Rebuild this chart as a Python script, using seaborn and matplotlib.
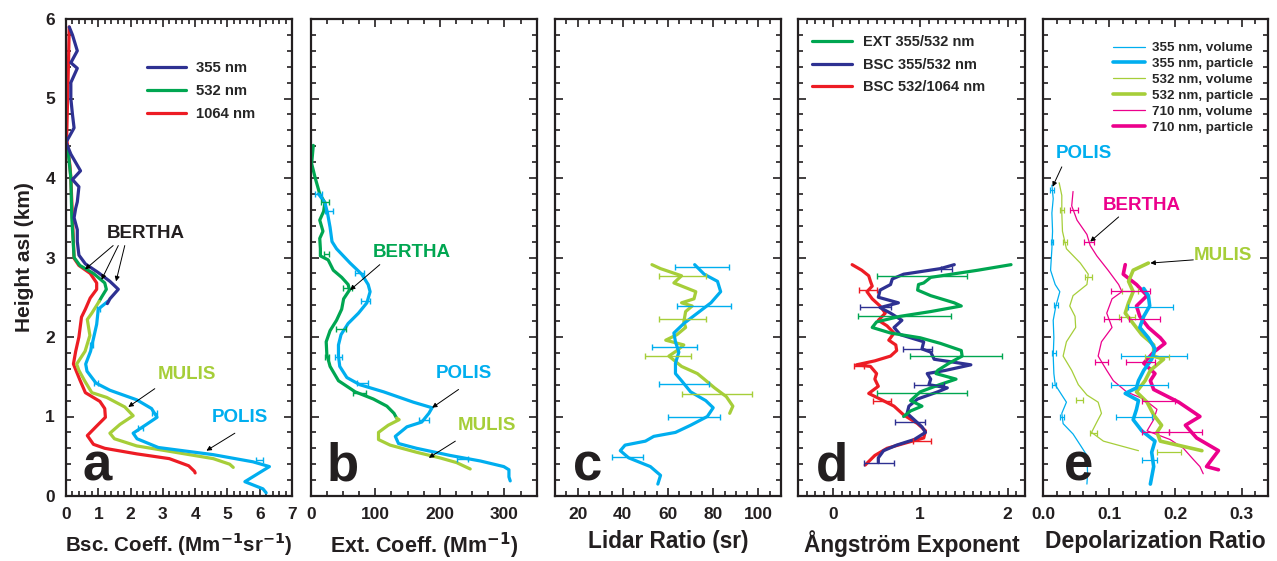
import numpy as np
import pandas as pd
import matplotlib
matplotlib.use("Agg")
import matplotlib.pyplot as plt
from matplotlib.ticker import MultipleLocator, FormatStrFormatter
from matplotlib.lines import Line2D
import seaborn as sns

sns.set_theme(style="ticks")
plt.rcParams['font.family'] = ['Liberation Sans', 'DejaVu Sans']
plt.rcParams['font.weight'] = 'bold'
plt.rcParams['mathtext.default'] = 'bf'

C_BLUE = "#2e3192"
C_GREEN = "#00a651"
C_RED = "#ed1c24"
C_CYAN = "#00aeef"
C_LIME = "#a6ce39"
C_MAG = "#ec008c"

# ---------------- Panel a: backscatter coefficient ----------------
a_b355_h = [5.9, 5.8, 5.6, 5.45, 5.38, 5.2, 5.0, 4.8, 4.63, 4.52, 4.45, 4.3, 4.09, 3.98, 3.89, 3.7, 3.62, 3.5, 3.35, 3.2, 3.03, 2.92, 2.81, 2.70, 2.60, 2.48, 2.42]
a_b355_v = [0.10, 0.20, 0.35, 0.15, 0.35, 0.15, 0.15, 0.20, 0.25, 0.10, 0.00, 0.15, 0.45, 0.20, 0.40, 0.35, 0.30, 0.25, 0.35, 0.35, 0.40, 0.60, 1.00, 1.36, 1.62, 1.36, 1.28]
a_p355_h = [2.45, 2.35, 2.16, 1.98, 1.82, 1.66, 1.57, 1.42, 1.33, 1.21, 1.10, 0.99, 0.90, 0.79, 0.72, 0.61, 0.52, 0.43, 0.37, 0.27, 0.18, 0.09, 0.04]
a_p355_v = [1.30, 1.00, 0.95, 0.85, 0.76, 0.61, 0.65, 0.93, 1.36, 2.19, 2.65, 2.82, 2.49, 2.08, 2.20, 2.86, 4.56, 5.79, 6.30, 5.90, 5.54, 6.10, 6.20]
a_b532_h = [4.40, 4.20, 4.00, 3.50, 3.00, 2.90, 2.80, 2.68, 2.60, 2.50, 2.45]
a_b532_v = [0.05, 0.10, 0.15, 0.18, 0.25, 0.43, 0.85, 1.20, 1.25, 1.10, 1.03]
a_m532_h = [2.45, 2.30, 2.22, 2.02, 1.82, 1.66, 1.58, 1.44, 1.30, 1.24, 1.12, 1.01, 0.90, 0.79, 0.72, 0.63, 0.54, 0.47, 0.40, 0.36]
a_m532_v = [1.03, 0.80, 0.66, 0.74, 0.59, 0.33, 0.40, 0.59, 0.80, 1.26, 1.82, 2.08, 1.67, 1.36, 1.50, 2.19, 3.53, 4.56, 5.07, 5.18]
a_r1064_h = [5.90, 5.50, 5.00, 4.50, 4.40, 4.16, 4.00, 3.50, 2.99, 2.90, 2.80, 2.68, 2.60, 2.49, 2.35, 2.25, 2.00, 1.82, 1.66, 1.46, 1.30, 1.19, 1.10, 0.99, 0.88, 0.76, 0.65, 0.60, 0.53, 0.47, 0.38, 0.31, 0.29]
a_r1064_v = [0.10, 0.08, 0.05, 0.02, 0.05, 0.12, 0.15, 0.20, 0.25, 0.40, 0.75, 0.95, 0.95, 0.75, 0.60, 0.48, 0.40, 0.30, 0.23, 0.43, 0.60, 1.05, 1.20, 1.22, 0.95, 0.66, 0.85, 1.20, 2.19, 3.20, 3.80, 3.98, 4.00]
a_err_h = [2.35, 1.90, 1.42, 1.05, 0.85, 0.45]
a_err_v = [1.00, 0.80, 0.93, 2.75, 2.30, 6.0]
a_err_e = [0.05, 0.05, 0.06, 0.08, 0.08, 0.1]

# ---------------- Panel b: extinction coefficient ----------------
b_b532_h = [4.41, 4.18, 4.00, 3.80, 3.69, 3.58, 3.47, 3.33, 3.24, 3.11, 3.02, 2.97, 2.84, 2.75, 2.66, 2.59, 2.48, 2.35, 2.21, 2.08, 1.94, 1.78, 1.63, 1.45, 1.31, 1.22, 1.13, 1.04, 0.98]
b_b532_v = [4, 1.5, 7, 14, 22, 20, 14, 19, 14, 15, 15, 27, 35, 48, 58, 60, 51, 48, 40, 30, 24, 25, 30, 43, 69, 97, 118, 129, 133]
b_m532_h = [0.98, 0.96, 0.89, 0.80, 0.71, 0.64, 0.55, 0.48, 0.42, 0.34]
b_m532_v = [133, 137, 120, 105, 105, 123, 164, 200, 226, 247]
b_p355_h = [3.80, 3.69, 3.56, 3.38, 3.20, 3.11, 2.93, 2.79, 2.66, 2.57, 2.43, 2.30, 2.17, 2.03, 1.90, 1.76, 1.63, 1.49, 1.40, 1.31, 1.18, 1.11, 1.04, 0.93, 0.87, 0.75, 0.66, 0.60, 0.51, 0.44, 0.37, 0.33, 0.24, 0.19]
b_p355_v = [12, 22, 26, 30, 33, 40, 61, 79, 89, 92, 87, 74, 58, 47, 43, 43, 45, 56, 76, 113, 159, 188, 183, 172, 149, 131, 136, 164, 216, 263, 299, 307, 307, 309]
b_perr_h = [3.80, 3.58, 2.80, 2.45, 1.75, 1.42, 0.95, 0.47]
b_perr_v = [12, 28, 75, 85, 43, 80, 175, 235]
b_perr_e = [6, 6, 7, 7, 5, 8, 8, 8]
b_gerr_h = [3.70, 3.05, 2.62, 2.10, 1.75, 1.30]
b_gerr_v = [22, 25, 57, 47, 25, 75]
b_gerr_e = [6, 4, 7, 8, 3, 10]

# ---------------- Panel c: lidar ratio ----------------
c_p_h = [2.91, 2.79, 2.70, 2.57, 2.43, 2.30, 2.17, 2.05, 1.94, 1.81, 1.67, 1.54, 1.45, 1.31, 1.20, 1.11, 1.00, 0.89, 0.80, 0.75, 0.69, 0.64, 0.57, 0.48, 0.37, 0.26, 0.15]
c_p_v = [71.8, 76, 81.9, 83.3, 79, 73, 67, 62.6, 63.3, 64.8, 63.3, 63.3, 66, 70, 76.7, 80, 77.4, 70, 63.3, 53.7, 50, 41, 38.9, 42.6, 52.2, 56.7, 55.5]
c_m_h = [2.91, 2.86, 2.77, 2.68, 2.57, 2.48, 2.43, 2.39, 2.32, 2.19, 2.12, 2.03, 1.96, 1.90, 1.83, 1.76, 1.63, 1.54, 1.47, 1.36, 1.25, 1.13, 1.04]
c_m_v = [52.9, 56.7, 66, 62.6, 72.3, 71.5, 66, 70.7, 67.8, 67, 67.8, 64, 59, 67, 64, 60.4, 66, 73, 76, 80.6, 85.8, 88.7, 87.3]
c_perr_h = [2.88, 2.39, 1.87, 1.41, 0.99, 0.49]
c_perr_v = [75, 76, 63, 67, 71.5, 42]
c_perr_e = [12, 12, 10, 11, 11.5, 7]
c_merr_h = [2.77, 2.23, 1.76, 1.28]
c_merr_v = [66.5, 66.5, 60, 81.5]
c_merr_e = [10.5, 10.5, 10, 15.5]

# ---------------- Panel d: Angstrom exponent ----------------
d_ext_h = [2.91, 2.84, 2.75, 2.68, 2.66, 2.59, 2.52, 2.43, 2.39, 2.32, 2.26, 2.19, 2.12, 2.05, 1.99, 1.92, 1.83, 1.76, 1.67, 1.58, 1.54, 1.47, 1.40, 1.31, 1.20, 1.13, 1.07, 1.00]
d_ext_v = [2.04, 1.66, 1.12, 1.04, 0.98, 0.97, 1.12, 1.39, 1.47, 1.12, 0.77, 0.50, 0.45, 0.66, 1.00, 1.23, 1.47, 1.48, 1.33, 1.20, 1.18, 1.41, 1.22, 1.00, 0.89, 1.02, 0.89, 0.81]
d_b35_h = [2.91, 2.86, 2.79, 2.73, 2.66, 2.59, 2.50, 2.43, 2.37, 2.30, 2.21, 2.12, 2.03, 1.94, 1.85, 1.81, 1.72, 1.65, 1.58, 1.54, 1.47, 1.40, 1.36, 1.31, 1.22, 1.13, 1.04, 0.96, 0.87, 0.80, 0.71, 0.64, 0.57, 0.48, 0.42]
d_b35_v = [1.39, 1.23, 0.81, 0.68, 0.66, 0.54, 0.52, 0.75, 0.54, 0.66, 0.79, 0.70, 0.77, 1.04, 1.02, 1.12, 1.16, 1.58, 1.29, 1.08, 1.12, 1.10, 1.31, 1.20, 0.97, 0.87, 0.85, 0.93, 1.02, 1.06, 0.93, 0.73, 0.58, 0.52, 0.52]
d_b51_h = [2.91, 2.84, 2.77, 2.70, 2.64, 2.57, 2.48, 2.39, 2.30, 2.21, 2.14, 2.05, 1.96, 1.90, 1.83, 1.76, 1.70, 1.65, 1.63, 1.54, 1.47, 1.38, 1.29, 1.22, 1.13, 1.02, 0.91, 0.82, 0.73, 0.66, 0.60, 0.51, 0.39]
d_b51_v = [0.22, 0.33, 0.41, 0.43, 0.45, 0.39, 0.45, 0.54, 0.60, 0.52, 0.62, 0.70, 0.64, 0.72, 0.73, 0.66, 0.48, 0.27, 0.43, 0.50, 0.48, 0.52, 0.41, 0.54, 0.70, 0.81, 0.97, 1.06, 1.04, 0.81, 0.62, 0.48, 0.37]
d_gerr_h = [2.77, 2.26, 1.76, 1.29]
d_gerr_v = [1.02, 0.82, 1.41, 1.02]
d_gerr_e = [0.52, 0.53, 0.53, 0.52]
d_berr_h = [2.86, 2.38, 1.85, 1.40, 0.93, 0.42]
d_berr_v = [1.30, 0.49, 0.97, 1.10, 0.88, 0.53]
d_berr_e = [0.06, 0.18, 0.17, 0.17, 0.17, 0.17]
d_rerr_h = [2.59, 1.64, 1.19, 0.69]
d_rerr_v = [0.40, 0.30, 0.56, 1.02]
d_rerr_e = [0.10, 0.06, 0.10, 0.10]

# ---------------- Panel e: depolarization ratio ----------------
e_v355_h = [3.91, 3.74, 3.56, 3.33, 3.11, 2.84, 2.66, 2.57, 2.39, 2.21, 1.99, 1.76, 1.54, 1.40, 1.27, 1.18, 1.04, 0.91, 0.78, 0.64, 0.51, 0.28, 0.15]
e_v355_v = [0.013, 0.015, 0.013, 0.014, 0.013, 0.011, 0.018, 0.025, 0.019, 0.015, 0.016, 0.015, 0.016, 0.018, 0.028, 0.035, 0.028, 0.030, 0.045, 0.056, 0.066, 0.067, 0.066]
e_v532_h = [3.94, 3.78, 3.56, 3.33, 3.11, 2.93, 2.79, 2.66, 2.52, 2.39, 2.26, 2.12, 1.94, 1.76, 1.58, 1.40, 1.27, 1.18, 1.04, 0.93, 0.80, 0.69, 0.57]
e_v532_v = [0.024, 0.028, 0.028, 0.029, 0.035, 0.056, 0.068, 0.066, 0.045, 0.040, 0.048, 0.049, 0.035, 0.030, 0.043, 0.053, 0.066, 0.083, 0.088, 0.081, 0.073, 0.091, 0.144]
e_v710_h = [3.83, 3.65, 3.47, 3.29, 3.15, 3.02, 2.84, 2.66, 2.57, 2.48, 2.30, 2.12, 1.94, 1.76, 1.58, 1.45, 1.31, 1.22, 1.09, 0.96, 0.82, 0.71, 0.60, 0.46, 0.37, 0.28]
e_v710_v = [0.045, 0.043, 0.051, 0.066, 0.071, 0.081, 0.098, 0.114, 0.119, 0.104, 0.096, 0.104, 0.088, 0.083, 0.096, 0.106, 0.126, 0.152, 0.172, 0.167, 0.157, 0.192, 0.212, 0.227, 0.237, 0.242]
e_p355_h = [2.61, 2.52, 2.39, 2.26, 2.12, 1.99, 1.85, 1.72, 1.58, 1.45, 1.36, 1.29, 1.20, 1.09, 0.96, 0.82, 0.69, 0.55, 0.37, 0.15]
e_p355_v = [0.152, 0.159, 0.161, 0.152, 0.146, 0.159, 0.169, 0.164, 0.152, 0.144, 0.141, 0.124, 0.144, 0.141, 0.136, 0.149, 0.169, 0.164, 0.167, 0.162]
e_p532_h = [2.93, 2.84, 2.70, 2.57, 2.43, 2.30, 2.17, 2.03, 1.90, 1.76, 1.72, 1.58, 1.45, 1.31, 1.18, 1.02, 0.89, 0.80, 0.69, 0.57]
e_p532_v = [0.159, 0.136, 0.129, 0.136, 0.129, 0.124, 0.136, 0.149, 0.167, 0.167, 0.182, 0.162, 0.154, 0.141, 0.157, 0.167, 0.179, 0.172, 0.177, 0.240]
e_p710_h = [2.91, 2.79, 2.66, 2.52, 2.39, 2.26, 2.12, 1.99, 1.92, 1.81, 1.67, 1.54, 1.45, 1.34, 1.18, 1.00, 0.89, 0.73, 0.57, 0.46, 0.37, 0.33]
e_p710_v = [0.124, 0.121, 0.141, 0.157, 0.141, 0.146, 0.159, 0.177, 0.184, 0.167, 0.152, 0.169, 0.162, 0.167, 0.205, 0.237, 0.215, 0.232, 0.265, 0.255, 0.247, 0.265]
e_cerr_h = [2.38, 1.76, 1.40, 1.00, 0.45, 3.85, 3.2, 2.4, 1.8, 1.4, 1.0]
e_cerr_v = [0.162, 0.168, 0.145, 0.137, 0.161, 0.013, 0.013, 0.019, 0.016, 0.016, 0.028]
e_cerr_e = [0.034, 0.050, 0.043, 0.027, 0.011, 0.003, 0.002, 0.003, 0.003, 0.003, 0.003]
e_lerr_h = [3.60, 3.20, 2.76, 2.58, 2.25, 1.75, 1.21, 0.79, 0.55]
e_lerr_v = [0.028, 0.033, 0.068, 0.131, 0.126, 0.172, 0.055, 0.076, 0.190]
e_lerr_e = [0.003, 0.003, 0.005, 0.012, 0.012, 0.018, 0.005, 0.006, 0.018]
e_merr_h = [3.60, 3.20, 2.58, 2.23, 2.23, 1.68, 1.68, 1.20, 0.80, 0.80]
e_merr_v = [0.047, 0.069, 0.132, 0.105, 0.153, 0.088, 0.147, 0.175, 0.170, 0.215]
e_merr_e = [0.006, 0.008, 0.030, 0.013, 0.023, 0.010, 0.022, 0.025, 0.020, 0.025]

fig = plt.figure(figsize=(12.77, 5.61), dpi=100)
W, H = 1277.0, 561.0
ybot, ytop = 496.0, 19.0
lefts = [66.0, 310.7, 555.0, 798.0, 1043.3]
widths = [226.0, 226.0, 226.0, 227.0, 224.7]
axes = [fig.add_axes([l / W, 1 - ybot / H, w / W, (ybot - ytop) / H]) for l, w in zip(lefts, widths)]

LW = 2.3
ANN = 13.5


def line(ax, v, h, color, lw=LW):
    df = pd.DataFrame({"v": v, "h": h})
    sns.lineplot(data=df, x="v", y="h", sort=False, estimator=None, color=color,
                 lw=lw, ax=ax, legend=False, solid_capstyle='round')


def err(ax, v, h, e, color, lw=1.0):
    ax.errorbar(v, h, xerr=e, fmt='none', ecolor=color, elinewidth=lw, capsize=2, capthick=lw)


def arrow(ax, xy, xytext):
    ax.annotate('', xy=xy, xytext=xytext,
                arrowprops=dict(arrowstyle='-|>', color='black', lw=0.7, mutation_scale=7,
                                shrinkA=0, shrinkB=0))


# Panel a
ax = axes[0]
line(ax, a_r1064_v, a_r1064_h, C_RED)
line(ax, a_b532_v, a_b532_h, C_GREEN)
line(ax, a_m532_v, a_m532_h, C_LIME)
line(ax, a_p355_v, a_p355_h, C_CYAN)
line(ax, a_b355_v, a_b355_h, C_BLUE)
err(ax, a_err_v, a_err_h, a_err_e, C_CYAN)
hs = [Line2D([], [], color=c, lw=LW) for c in (C_BLUE, C_GREEN, C_RED)]
ax.legend(hs, ["355 nm", "532 nm", "1064 nm"], loc='upper left', bbox_to_anchor=(0.36, 0.912),
          frameon=False, borderpad=0, borderaxespad=0, handlelength=2.6, handletextpad=0.7,
          labelspacing=0.62, prop={'weight': 'bold', 'size': 10.7})
ax.text(2.46, 3.30, "BERTHA", color='#231f20', fontsize=ANN, fontweight='bold', ha='center', va='center')
arrow(ax, (0.59, 2.85), (1.46, 3.15))
arrow(ax, (1.10, 2.72), (1.62, 3.15))
arrow(ax, (1.55, 2.70), (1.82, 3.15))
ax.text(3.75, 1.53, "MULIS", color=C_LIME, fontsize=ANN, fontweight='bold', ha='center', va='center')
arrow(ax, (1.93, 1.12), (2.75, 1.35))
ax.text(5.4, 0.99, "POLIS", color=C_CYAN, fontsize=ANN, fontweight='bold', ha='center', va='center')
arrow(ax, (4.35, 0.57), (5.23, 0.79))
ax.set_xlim(0, 7)
ax.xaxis.set_major_locator(MultipleLocator(1))
ax.xaxis.set_minor_locator(MultipleLocator(0.2))
ax.set_xlabel("Bsc. Coeff. (Mm$^{\\mathsf{-1}}$sr$^{\\mathsf{-1}}$)", fontsize=14.8)

# Panel b
ax = axes[1]
line(ax, b_b532_v, b_b532_h, C_GREEN)
line(ax, b_m532_v, b_m532_h, C_LIME)
line(ax, b_p355_v, b_p355_h, C_CYAN)
err(ax, b_perr_v, b_perr_h, b_perr_e, C_CYAN)
err(ax, b_gerr_v, b_gerr_h, b_gerr_e, C_GREEN)
ax.text(157, 3.06, "BERTHA", color=C_GREEN, fontsize=ANN, fontweight='bold', ha='center', va='center')
arrow(ax, (61, 2.59), (107, 2.91))
ax.text(237, 1.54, "POLIS", color=C_CYAN, fontsize=ANN, fontweight='bold', ha='center', va='center')
arrow(ax, (188, 1.11), (229, 1.34))
ax.text(273, 0.89, "MULIS", color=C_LIME, fontsize=ANN, fontweight='bold', ha='center', va='center')
arrow(ax, (183, 0.48), (224, 0.69))
ax.set_xlim(0, 350)
ax.xaxis.set_major_locator(MultipleLocator(100))
ax.xaxis.set_minor_locator(MultipleLocator(25))
ax.set_xlabel("Ext. Coeff. (Mm$^{\\mathsf{-1}}$)", fontsize=15.5)

# Panel c
ax = axes[2]
line(ax, c_m_v, c_m_h, C_LIME)
line(ax, c_p_v, c_p_h, C_CYAN)
err(ax, c_perr_v, c_perr_h, c_perr_e, C_CYAN)
err(ax, c_merr_v, c_merr_h, c_merr_e, C_LIME)
ax.set_xlim(10, 110)
ax.xaxis.set_major_locator(MultipleLocator(20))
ax.xaxis.set_minor_locator(MultipleLocator(5))
ax.set_xlabel("Lidar Ratio (sr)", fontsize=16.3)

# Panel d
ax = axes[3]
line(ax, d_b51_v, d_b51_h, C_RED)
line(ax, d_b35_v, d_b35_h, C_BLUE)
line(ax, d_ext_v, d_ext_h, C_GREEN)
err(ax, d_gerr_v, d_gerr_h, d_gerr_e, C_GREEN)
err(ax, d_berr_v, d_berr_h, d_berr_e, C_BLUE)
err(ax, d_rerr_v, d_rerr_h, d_rerr_e, C_RED)
hs = [Line2D([], [], color=c, lw=LW) for c in (C_GREEN, C_BLUE, C_RED)]
ax.legend(hs, ["EXT 355/532 nm", "BSC 355/532 nm", "BSC 532/1064 nm"], loc='upper left',
          bbox_to_anchor=(0.06, 0.966), frameon=False, borderpad=0, borderaxespad=0,
          handlelength=2.75, handletextpad=0.8, labelspacing=0.58,
          prop={'weight': 'bold', 'size': 10.5})
ax.set_xlim(-0.4, 2.2)
ax.xaxis.set_major_locator(MultipleLocator(1))
ax.xaxis.set_minor_locator(MultipleLocator(0.1))
ax.set_xlabel("Ångström Exponent", fontsize=16.3)

# Panel e
ax = axes[4]
line(ax, e_v355_v, e_v355_h, C_CYAN, lw=0.9)
line(ax, e_v532_v, e_v532_h, C_LIME, lw=0.9)
line(ax, e_v710_v, e_v710_h, C_MAG, lw=0.9)
line(ax, e_p710_v, e_p710_h, C_MAG, lw=2.6)
line(ax, e_p532_v, e_p532_h, C_LIME, lw=2.6)
line(ax, e_p355_v, e_p355_h, C_CYAN, lw=2.6)
err(ax, e_cerr_v, e_cerr_h, e_cerr_e, C_CYAN, lw=0.9)
err(ax, e_lerr_v, e_lerr_h, e_lerr_e, C_LIME, lw=0.9)
err(ax, e_merr_v, e_merr_h, e_merr_e, C_MAG, lw=0.9)
hs = []
for c in (C_CYAN, C_LIME, C_MAG):
    hs.append(Line2D([], [], color=c, lw=0.9))
    hs.append(Line2D([], [], color=c, lw=2.6))
ax.legend(hs, ["355 nm, volume", "355 nm, particle", "532 nm, volume", "532 nm, particle",
               "710 nm, volume", "710 nm, particle"], loc='upper left', bbox_to_anchor=(0.31, 0.952),
          frameon=False, borderpad=0, borderaxespad=0, handlelength=2.4, handletextpad=0.55,
          labelspacing=0.27, prop={'weight': 'bold', 'size': 9.6})
ax.text(0.061, 4.31, "POLIS", color=C_CYAN, fontsize=ANN, fontweight='bold', ha='center', va='center')
arrow(ax, (0.014, 3.89), (0.028, 4.14))
ax.text(0.149, 3.65, "BERTHA", color=C_MAG, fontsize=ANN, fontweight='bold', ha='center', va='center')
arrow(ax, (0.071, 3.20), (0.114, 3.51))
ax.text(0.272, 3.02, "MULIS", color=C_LIME, fontsize=ANN, fontweight='bold', ha='center', va='center')
arrow(ax, (0.162, 2.93), (0.227, 2.97))
ax.set_xlim(0, 0.34)
ax.xaxis.set_major_locator(MultipleLocator(0.1))
ax.xaxis.set_minor_locator(MultipleLocator(0.02))
ax.xaxis.set_major_formatter(FormatStrFormatter('%.1f'))
ax.set_xlabel("Depolarization Ratio", fontsize=16.5)

letters = ['a', 'b', 'c', 'd', 'e']
lx = [0.075, 0.07, 0.08, 0.08, 0.09]
for i, ax in enumerate(axes):
    ax.set_ylim(0, 6)
    ax.yaxis.set_major_locator(MultipleLocator(1))
    ax.yaxis.set_minor_locator(MultipleLocator(0.2))
    ax.tick_params(which='both', direction='in', top=True, right=True, width=1.2, colors='#231f20')
    ax.tick_params(which='major', length=6, labelsize=12.5, pad=8)
    ax.tick_params(which='minor', length=3.5)
    for lab in ax.get_xticklabels() + ax.get_yticklabels():
        lab.set_fontweight('bold')
    for s in ax.spines.values():
        s.set_linewidth(1.6)
        s.set_color('#231f20')
    ax.xaxis.label.set_fontweight('bold')
    ax.xaxis.label.set_color('#231f20')
    ax.xaxis.labelpad = 6
    ax.text(lx[i], 0.033, letters[i], transform=ax.transAxes, fontsize=38, fontweight='bold',
            color='#231f20', va='baseline', ha='left')
    if i > 0:
        ax.set_yticklabels([])
        ax.set_ylabel("")
    else:
        ax.set_ylabel("Height asl (km)", fontsize=15, fontweight='bold', labelpad=8, color='#231f20')

fig.savefig("out.png", dpi=100)
